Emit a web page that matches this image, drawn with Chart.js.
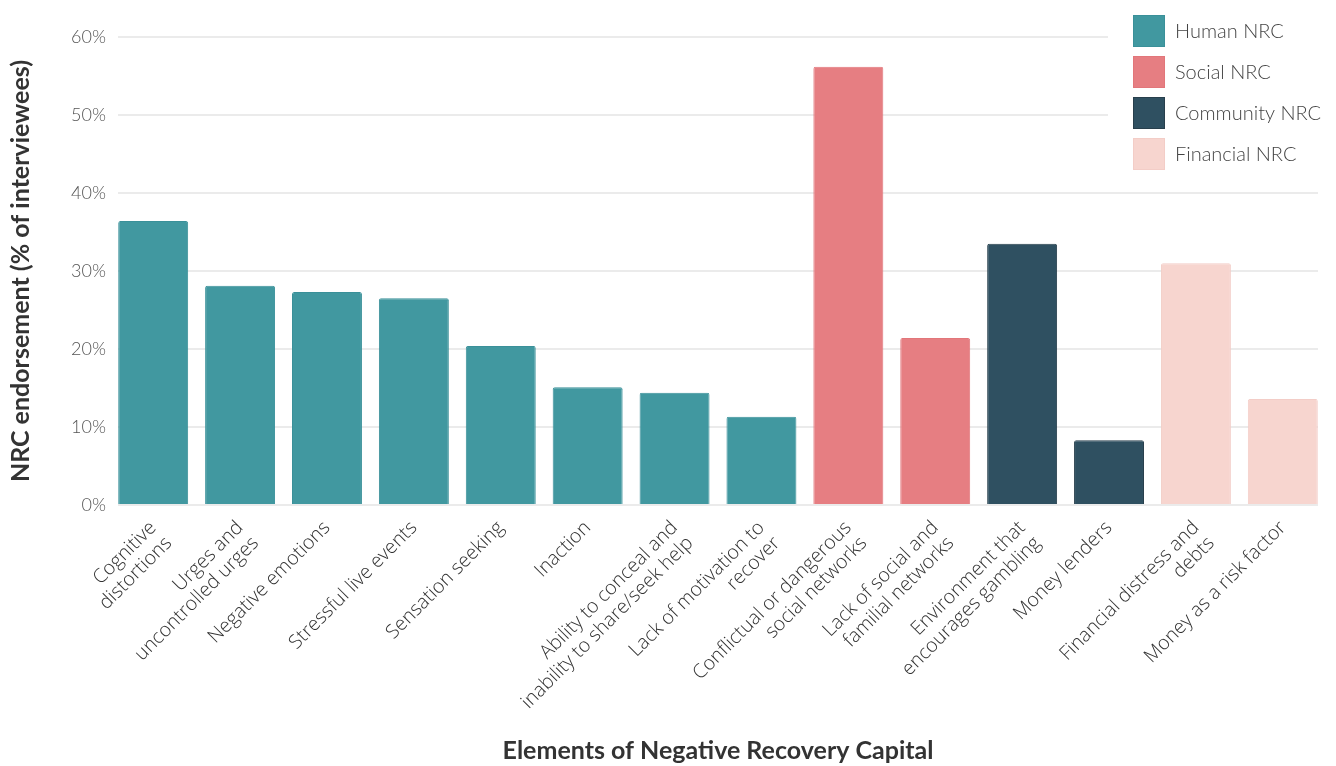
<!DOCTYPE html>
<html><head><meta charset="utf-8">
<script src="https://cdn.jsdelivr.net/npm/chart.js@4"></script>
<style>html,body{margin:0;padding:0;background:#fff;}canvas{display:block}</style>
</head><body>
<canvas id="c" width="1336" height="766"></canvas>
<script>
const categories = [
  ["Cognitive","distortions"],
  ["Urges and","uncontrolled urges"],
  "Negative emotions",
  "Stressful live events",
  "Sensation seeking",
  "Inaction",
  ["Ability to conceal and","inability to share/seek help"],
  ["Lack of motivation to","recover"],
  ["Conflictual or dangerous","social networks"],
  ["Lack of social and","familial networks"],
  ["Environment that","encourages gambling"],
  "Money lenders",
  ["Financial distress and","debts"],
  "Money as a risk factor"
];
const values = [36.4, 28.1, 27.3, 26.5, 20.4, 15.1, 14.4, 11.3, 56.2, 21.4, 33.5, 8.3, 31.0, 13.6];
const categoryGroup = [0,0,0,0,0,0,0,0,1,1,2,2,3,3];
const groups = ["Human NRC","Social NRC","Community NRC","Financial NRC"];
const groupColors = ["#4198A0","#E67E82","#2F5061","#F7D5CF"];
const groupBorders = ["#3A9099","#E2767A","#283F4C","#F3CDC7"];
const yTicks = [0,10,20,30,40,50,60];

const legendPlugin = {
  id: 'boxLegend',
  afterDraw(chart) {
    const c = chart.ctx;
    const x0 = chart.width - 203;
    c.save();
    c.fillStyle = '#ffffff';
    c.fillRect(x0 - 25, 0, chart.width - x0 + 25, 185);
    groups.forEach((g, i) => {
      const y = 15 + i * 41;
      c.fillStyle = groupColors[i];
      c.fillRect(x0, y, 32, 32);
      c.strokeStyle = groupBorders[i];
      c.lineWidth = 1;
      c.strokeRect(x0 + 0.5, y + 0.5, 31, 31);
      c.fillStyle = '#444444';
      c.font = '300 20px Lato';
      c.textBaseline = 'middle';
      c.textAlign = 'left';
      c.fillText(g, x0 + 42, y + 17);
    });
    c.restore();
  }
};

new Chart(document.getElementById('c'), {
  type: 'bar',
  data: {
    datasets: [{
      data: values.map((v, i) => ({ x: i, y: v })),
      backgroundColor: categoryGroup.map(g => groupColors[g]),
      borderColor: categoryGroup.map(g => groupBorders[g]),
      borderWidth: 1,
      borderRadius: 2,
      borderSkipped: 'bottom',
      barPercentage: 0.805,
      categoryPercentage: 1
    }]
  },
  options: {
    responsive: false,
    animation: false,
    layout: { padding: { left: 0, right: 18, top: 37, bottom: 0 } },
    plugins: { legend: { display: false }, tooltip: { enabled: false } },
    scales: {
      x: {
        type: 'linear',
        offset: false,
        min: -0.405,
        max: 13.405,
        grid: { display: false, offset: false },
        border: { display: false },
        afterBuildTicks: s => { s.ticks = categories.map((_, i) => ({ value: i })); },
        afterFit: s => { s.height = 261; },
        ticks: {
          autoSkip: false,
          minRotation: 45,
          maxRotation: 45,
          padding: 4,
          color: '#333333',
          font: { family: 'Open Sans', size: 19.5, weight: '300', lineHeight: 1.12 },
          callback: v => categories[v]
        },
        title: {
          display: true,
          text: 'Elements of Negative Recovery Capital',
          color: '#333333',
          font: { family: 'Lato', size: 25, weight: 'bold' },
          padding: { top: 0, bottom: 0 }
        }
      },
      y: {
        min: 0,
        max: 60,
        afterBuildTicks: s => { s.ticks = yTicks.map(v => ({ value: v })); },
        afterFit: s => { s.width = 118; },
        grid: { color: '#EBEBEB', lineWidth: 2, drawTicks: false },
        border: { display: false },
        ticks: {
          color: '#555555',
          padding: 12,
          font: { family: 'Lato', size: 18, weight: '300' },
          callback: v => v + '%'
        },
        title: {
          display: true,
          text: 'NRC endorsement (% of interviewees)',
          color: '#333333',
          font: { family: 'Lato', size: 25, weight: 'bold' },
          padding: { top: 6, bottom: 4 }
        }
      }
    }
  },
  plugins: [legendPlugin]
});
</script>
</body></html>
